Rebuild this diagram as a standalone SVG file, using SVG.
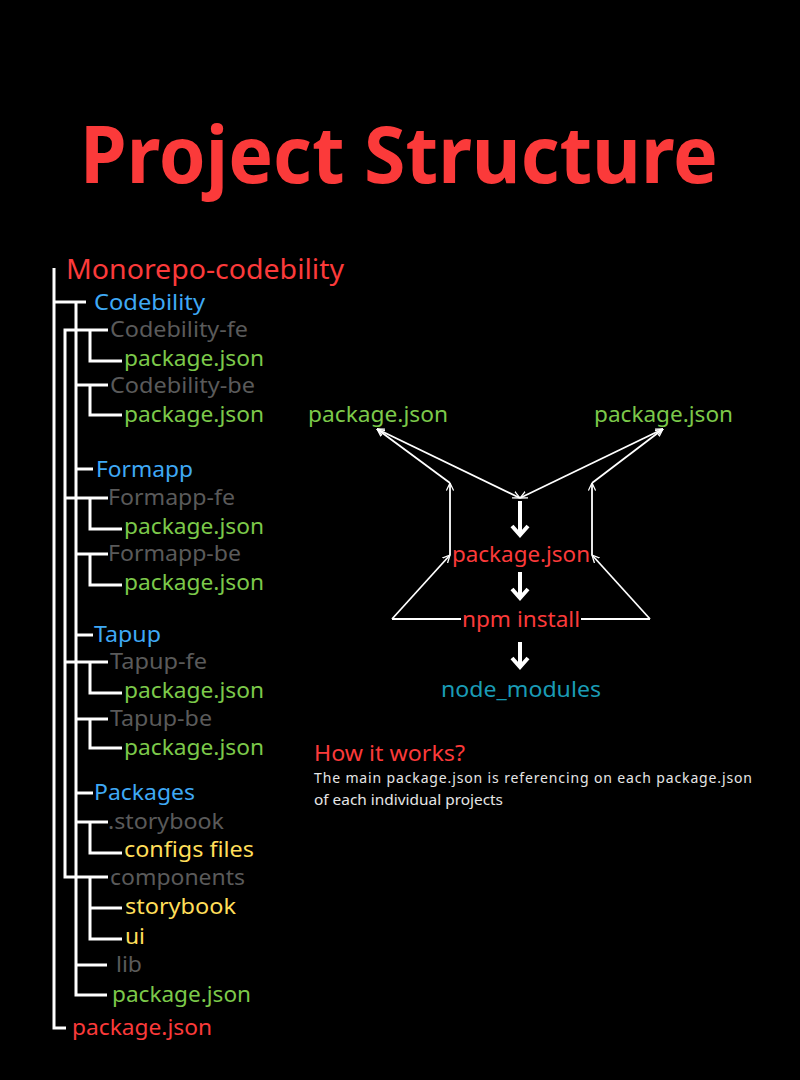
<svg xmlns="http://www.w3.org/2000/svg" width="800" height="1080" viewBox="0 0 800 1080">
<style>
text{font-family:"Noto Sans","Open Sans","DejaVu Sans",sans-serif;}
.t{font-size:21px;}
.red{fill:#fb3a3a;}
.blue{fill:#3fa9f5;}
.gray{fill:#5a5a5a;}
.green{fill:#7cc94a;}
.yellow{fill:#ffde59;}
.teal{fill:#1a9bb5;}
.tree{fill:none;stroke:#fff;stroke-width:3;}
.thin{fill:none;stroke:#fff;stroke-width:1.8;}
.thick{fill:none;stroke:#fff;stroke-width:4;}
</style>
<defs>
<marker id="v" viewBox="0 0 10 10" refX="9.5" refY="5" markerWidth="8" markerHeight="8" markerUnits="userSpaceOnUse" orient="auto-start-reverse">
<path d="M0,0.5 L9.5,5 L0,9.5" fill="none" stroke="#fff" stroke-width="1.6"/>
</marker>
</defs>
<rect width="800" height="1080" fill="#000"/>

<g id="title"><text x="399" y="183" text-anchor="middle" font-size="78" font-weight="bold" class="red" textLength="638" lengthAdjust="spacingAndGlyphs">Project Structure</text></g>

<g id="connectors">
<g id="tree-lines">
<path class="tree" d="M54 268 V1028 H66"/>
<path class="tree" d="M54 302 H86"/>
<path class="tree" d="M76 302 V995 H107"/>
<path class="tree" d="M108 330 H65 V877 H108"/>
<path class="tree" d="M76 385 H108"/>
<path class="tree" d="M90 330 V361 H122"/>
<path class="tree" d="M90 385 V415 H122"/>
<path class="tree" d="M76 469 H93"/>
<path class="tree" d="M65 498 H108"/>
<path class="tree" d="M90 498 V529 H122"/>
<path class="tree" d="M76 554 H108"/>
<path class="tree" d="M90 554 V585 H122"/>
<path class="tree" d="M76 635 H93"/>
<path class="tree" d="M65 662 H108"/>
<path class="tree" d="M90 662 V693 H122"/>
<path class="tree" d="M76 719 H108"/>
<path class="tree" d="M90 719 V748 H122"/>
<path class="tree" d="M76 793 H93"/>
<path class="tree" d="M76 822 H108"/>
<path class="tree" d="M90 822 V853 H122"/>
<path class="tree" d="M90 877 V939 H122"/>
<path class="tree" d="M90 908 H122"/>
<path class="tree" d="M76 965 H107"/>
</g>
<g id="flow-lines">
<line class="thin" x1="377" y1="429" x2="520" y2="498" marker-start="url(#v)" marker-end="url(#v)"/>
<line class="thin" x1="663" y1="429" x2="520" y2="498" marker-start="url(#v)" marker-end="url(#v)"/>
<line class="thin" x1="450" y1="483" x2="377" y2="429" marker-end="url(#v)"/>
<line class="thin" x1="592" y1="483" x2="663" y2="429" marker-end="url(#v)"/>
<line class="thin" x1="450" y1="555" x2="450" y2="483" marker-end="url(#v)"/>
<line class="thin" x1="592" y1="555" x2="592" y2="483" marker-end="url(#v)"/>
<line class="thin" x1="392" y1="619" x2="450" y2="555" marker-end="url(#v)"/>
<line class="thin" x1="650" y1="619" x2="592" y2="555" marker-end="url(#v)"/>
<line class="thin" x1="392" y1="619" x2="461" y2="619"/>
<line class="thin" x1="581" y1="619" x2="650" y2="619"/>
<path class="thick" d="M520 501 V535 M512 526 L520 535 L528 526"/>
<path class="thick" d="M520 572 V598 M512 589 L520 598 L528 589"/>
<path class="thick" d="M520 642 V667 M512 658 L520 667 L528 658"/>
</g>
</g>

<g id="root"><text x="66" y="279" font-size="27" class="red" textLength="278" lengthAdjust="spacingAndGlyphs">Monorepo-codebility</text></g>
<g id="codebility"><text x="94" y="310" class="t blue" textLength="111" lengthAdjust="spacingAndGlyphs">Codebility</text></g>
<g id="codebility-fe"><text x="110" y="337" class="t gray" textLength="138" lengthAdjust="spacingAndGlyphs">Codebility-fe</text></g>
<g id="codebility-fe-pkg"><text x="124" y="366" class="t green" textLength="140" lengthAdjust="spacingAndGlyphs">package.json</text></g>
<g id="codebility-be"><text x="110" y="393" class="t gray" textLength="145" lengthAdjust="spacingAndGlyphs">Codebility-be</text></g>
<g id="codebility-be-pkg"><text x="124" y="422" class="t green" textLength="140" lengthAdjust="spacingAndGlyphs">package.json</text></g>
<g id="formapp"><text x="96" y="477" class="t blue" textLength="97" lengthAdjust="spacingAndGlyphs">Formapp</text></g>
<g id="formapp-fe"><text x="108" y="505" class="t gray" textLength="127" lengthAdjust="spacingAndGlyphs">Formapp-fe</text></g>
<g id="formapp-fe-pkg"><text x="124" y="534" class="t green" textLength="140" lengthAdjust="spacingAndGlyphs">package.json</text></g>
<g id="formapp-be"><text x="108" y="561" class="t gray" textLength="133" lengthAdjust="spacingAndGlyphs">Formapp-be</text></g>
<g id="formapp-be-pkg"><text x="124" y="590" class="t green" textLength="140" lengthAdjust="spacingAndGlyphs">package.json</text></g>
<g id="tapup"><text x="94" y="642" class="t blue" textLength="67" lengthAdjust="spacingAndGlyphs">Tapup</text></g>
<g id="tapup-fe"><text x="110" y="669" class="t gray" textLength="97" lengthAdjust="spacingAndGlyphs">Tapup-fe</text></g>
<g id="tapup-fe-pkg"><text x="124" y="698" class="t green" textLength="140" lengthAdjust="spacingAndGlyphs">package.json</text></g>
<g id="tapup-be"><text x="110" y="726" class="t gray" textLength="102" lengthAdjust="spacingAndGlyphs">Tapup-be</text></g>
<g id="tapup-be-pkg"><text x="124" y="755" class="t green" textLength="140" lengthAdjust="spacingAndGlyphs">package.json</text></g>
<g id="packages"><text x="94" y="800" class="t blue" textLength="101" lengthAdjust="spacingAndGlyphs">Packages</text></g>
<g id="storybook-dir"><text x="108" y="829" class="t gray" textLength="116" lengthAdjust="spacingAndGlyphs">.storybook</text></g>
<g id="configs"><text x="124" y="857" class="t yellow" textLength="130" lengthAdjust="spacingAndGlyphs">configs files</text></g>
<g id="components"><text x="110" y="885" class="t gray" textLength="135" lengthAdjust="spacingAndGlyphs">components</text></g>
<g id="storybook"><text x="125" y="914" class="t yellow" textLength="111" lengthAdjust="spacingAndGlyphs">storybook</text></g>
<g id="ui"><text x="125" y="944" class="t yellow" textLength="20" lengthAdjust="spacingAndGlyphs">ui</text></g>
<g id="lib"><text x="116" y="972" class="t gray" textLength="26" lengthAdjust="spacingAndGlyphs">lib</text></g>
<g id="packages-pkg"><text x="112" y="1002" class="t green" textLength="139" lengthAdjust="spacingAndGlyphs">package.json</text></g>
<g id="root-pkg"><text x="72" y="1035" class="t red" textLength="140" lengthAdjust="spacingAndGlyphs">package.json</text></g>

<g id="pkg-left"><text x="308" y="422" class="t green" textLength="140" lengthAdjust="spacingAndGlyphs">package.json</text></g>
<g id="pkg-right"><text x="594" y="422" class="t green" textLength="139" lengthAdjust="spacingAndGlyphs">package.json</text></g>
<g id="pkg-main"><text x="452" y="562" class="t red" textLength="138" lengthAdjust="spacingAndGlyphs">package.json</text></g>
<g id="npm-install"><text x="462" y="627" class="t red" textLength="118" lengthAdjust="spacingAndGlyphs">npm install</text></g>
<g id="node-modules"><text x="441" y="697" class="t teal" textLength="160" lengthAdjust="spacingAndGlyphs">node_modules</text></g>

<g id="how-it-works">
<text x="314" y="761" class="t red" textLength="151" lengthAdjust="spacingAndGlyphs">How it works?</text>
<text x="314" y="783" font-size="14" fill="#e6e6e6" textLength="438" lengthAdjust="spacing">The main package.json is referencing on each package.json</text>
<text x="314" y="805" font-size="14" fill="#e6e6e6" textLength="189" lengthAdjust="spacingAndGlyphs">of each individual projects</text>
</g>
</svg>
